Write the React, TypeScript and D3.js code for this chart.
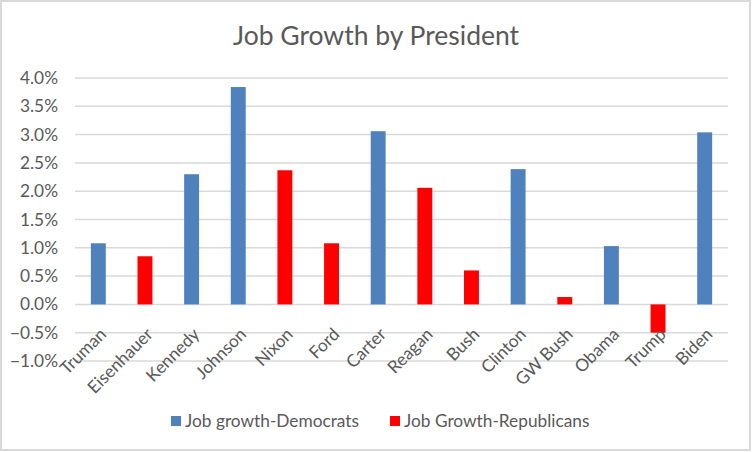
import React, { useEffect, useRef } from "react";
import * as d3 from "d3";

const presidents = [
  "Truman", "Eisenhauer", "Kennedy", "Johnson", "Nixon", "Ford", "Carter",
  "Reagan", "Bush", "Clinton", "GW Bush", "Obama", "Trump", "Biden",
];
// job growth per year (%), null where the other party held office
const democrats = [1.08, null, 2.30, 3.84, null, null, 3.06, null, null, 2.39, null, 1.03, null, 3.04];
const republicans = [null, 0.85, null, null, 2.37, 1.08, null, 2.06, 0.60, null, 0.13, null, -0.50, null];
const yTicks = [-1, -0.5, 0, 0.5, 1, 1.5, 2, 2.5, 3, 3.5, 4];
const seriesNames = ["Job growth-Democrats", "Job Growth-Republicans"];

const BLUE = "#4f81bd";
const RED = "#ff0000";
const TEXT = "#595959";
const GRID = "#d9d9d9";
const FONT = "Lato, 'Open Sans', sans-serif";

export default function App() {
  const ref = useRef<HTMLDivElement>(null);

  useEffect(() => {
    d3.select(ref.current).selectAll("*").remove();

    const width = 752, height = 452;
    const plot = { left: 75, right: 728, top: 78, bottom: 361 };

    const svg = d3.select(ref.current)
      .append("svg")
      .attr("width", width)
      .attr("height", height)
      .style("position", "absolute")
      .style("left", "0px")
      .style("top", "0px")
      .style("font-family", FONT);

    svg.append("rect")
      .attr("x", 1).attr("y", 1)
      .attr("width", width - 3).attr("height", height - 3)
      .attr("fill", "#fff")
      .attr("stroke", GRID)
      .attr("stroke-width", 2);

    // title
    svg.append("text")
      .attr("x", width / 2)
      .attr("y", 45)
      .attr("text-anchor", "middle")
      .attr("font-size", 26.5)
      .attr("fill", TEXT)
      .text("Job Growth by President");

    const x = d3.scaleBand<string>()
      .domain(presidents)
      .range([plot.left, plot.right])
      .paddingInner(0.68)
      .paddingOuter(0.34);

    const y = d3.scaleLinear()
      .domain([-1, 4])
      .range([plot.bottom, plot.top]);

    // gridlines
    svg.append("g")
      .selectAll("line")
      .data(yTicks)
      .join("line")
      .attr("x1", plot.left)
      .attr("x2", plot.right)
      .attr("y1", d => y(d))
      .attr("y2", d => y(d))
      .attr("stroke", GRID)
      .attr("stroke-width", 1.5);

    // y labels
    svg.append("g")
      .selectAll("text")
      .data(yTicks)
      .join("text")
      .attr("x", 58)
      .attr("y", d => y(d))
      .attr("dy", "0.35em")
      .attr("text-anchor", "end")
      .attr("font-size", 17.3)
      .attr("fill", TEXT)
      .text(d => d3.format(".1%")(d / 100));

    // bars
    const series = [
      { values: democrats, color: BLUE },
      { values: republicans, color: RED },
    ];
    series.forEach(s => {
      const rows = presidents
        .map((p, i) => ({ p, v: s.values[i] }))
        .filter(d => d.v !== null) as { p: string; v: number }[];
      svg.append("g")
        .selectAll("rect")
        .data(rows)
        .join("rect")
        .attr("x", d => x(d.p)!)
        .attr("width", x.bandwidth())
        .attr("y", d => y(Math.max(0, d.v)))
        .attr("height", d => Math.abs(y(d.v) - y(0)))
        .attr("fill", s.color);
    });

    // category labels, rotated
    svg.append("g")
      .selectAll("text")
      .data(presidents)
      .join("text")
      .attr("transform", d => `translate(${x(d)! + x.bandwidth() / 2 + 9},${y(0) + 31}) rotate(-45)`)
      .attr("text-anchor", "end")
      .attr("font-size", 17.3)
      .attr("fill", TEXT)
      .text(d => d);

    // legend
    const legendX = [171, 390];
    const legend = svg.append("g");
    seriesNames.forEach((name, i) => {
      legend.append("rect")
        .attr("x", legendX[i]).attr("y", 416)
        .attr("width", 10).attr("height", 10)
        .attr("fill", series[i].color);
      legend.append("text")
        .attr("x", legendX[i] + 14).attr("y", 427)
        .attr("font-size", 17.3)
        .attr("fill", TEXT)
        .text(name);
    });
  }, []);

  return <div ref={ref} />;
}
